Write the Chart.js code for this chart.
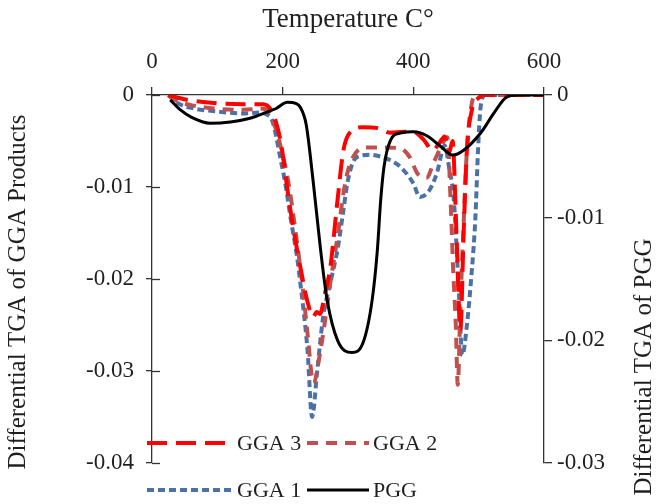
<!DOCTYPE html>
<html>
<head>
<meta charset="utf-8">
<script src="https://cdn.jsdelivr.net/npm/chart.js@4.4.1/dist/chart.umd.min.js"></script>
<style>
  body { margin: 0; background: #fff; }
</style>
</head>
<body>
<canvas id="tga" width="660" height="504"></canvas>
<script>
// temperature (C) and differential TGA values
const gga3Temp = [25, 40, 60, 100, 140, 170, 182, 190, 198, 206, 214, 222, 230, 237, 247, 252, 257, 265, 273, 284, 293, 304, 324, 345, 365, 385, 400, 415, 430, 440, 448, 455, 460, 466, 472, 477, 482, 490, 500, 510, 600];
const gga3Dtga = [0, -0.0003, -0.0006, -0.0009, -0.0010, -0.0010, -0.0016, -0.0030, -0.0055, -0.0096, -0.0135, -0.0168, -0.0198, -0.0222, -0.0241, -0.0236, -0.0238, -0.0215, -0.0187, -0.0114, -0.0060, -0.0040, -0.0035, -0.0036, -0.0041, -0.0040, -0.0040, -0.0048, -0.0060, -0.0052, -0.0045, -0.0062, -0.0050, -0.0150, -0.0255, -0.0150, -0.0060, -0.0015, -0.0003, 0, 0];

const gga2Temp = [25, 40, 60, 100, 140, 170, 180, 190, 200, 210, 220, 230, 238, 247, 258, 266, 273, 284, 293, 300, 308, 324, 350, 380, 395, 406, 420, 432, 442, 452, 457, 461, 465, 468, 472, 477, 482, 488, 495, 600];
const gga2Dtga = [0, -0.0007, -0.0011, -0.0015, -0.0016, -0.0015, -0.0020, -0.0038, -0.0065, -0.0100, -0.0150, -0.0205, -0.0259, -0.0313, -0.0277, -0.0240, -0.0204, -0.0154, -0.0107, -0.0082, -0.0067, -0.0057, -0.0057, -0.0058, -0.0068, -0.0085, -0.0090, -0.0072, -0.0057, -0.0046, -0.0114, -0.0190, -0.0250, -0.0315, -0.0230, -0.0140, -0.0060, -0.0015, 0, 0];

const gga1Temp = [25, 40, 60, 100, 140, 165, 175, 183, 188, 196, 204, 212, 222, 227, 238, 245, 253, 262, 273, 284, 293, 299, 307, 315, 334, 350, 365, 380, 400, 410, 425, 436, 448, 455, 462, 469, 475, 482, 488, 495, 499, 503, 510, 600];
const gga1Dtga = [0, -0.0009, -0.0014, -0.0018, -0.0020, -0.0019, -0.0021, -0.0026, -0.0038, -0.0067, -0.0096, -0.0133, -0.0176, -0.0204, -0.0277, -0.0350, -0.0299, -0.0241, -0.0204, -0.0168, -0.0125, -0.0096, -0.0074, -0.0067, -0.0065, -0.0067, -0.0071, -0.0078, -0.0096, -0.0111, -0.0103, -0.0085, -0.0055, -0.0080, -0.0114, -0.0204, -0.0283, -0.0250, -0.0204, -0.0133, -0.0060, -0.0013, 0, 0];

const pggTemp = [28, 43, 60, 89, 120, 150, 176, 190, 207, 221, 227, 236, 247, 258, 268, 284, 306, 323, 337, 345, 350, 355, 365, 380, 400, 420, 442, 460, 477, 503, 523, 542, 560, 600];
const pggDtga = [-0.0004, -0.0012, -0.0018, -0.0023, -0.0022, -0.0019, -0.0014, -0.0011, -0.0006, -0.0007, -0.0010, -0.0024, -0.0072, -0.0126, -0.0167, -0.0200, -0.0210, -0.0202, -0.0167, -0.0126, -0.0086, -0.0059, -0.0037, -0.0031, -0.0030, -0.0033, -0.0042, -0.0049, -0.0045, -0.0031, -0.0015, -0.0002, 0, 0];

const tempTicks = [0, 200, 400, 600];
const seriesNames = ['GGA 3', 'GGA 2', 'GGA 1', 'PGG'];

const serif = "'Liberation Serif', 'DejaVu Serif', serif";
const textColor = '#1f1f1f';
const axisColor = '#333';

function pairs(xs, ys) {
  return xs.map((x, i) => ({ x: x, y: ys[i] }));
}

// axis titles (both read bottom to top) and the inner half of the left ticks
const axisExtras = {
  id: 'axisExtras',
  afterDraw(chart) {
    const ctx = chart.ctx;
    const yScale = chart.scales.y;
    ctx.save();
    ctx.strokeStyle = axisColor;
    ctx.lineWidth = 1.3;
    yScale.ticks.forEach(t => {
      const py = Math.round(yScale.getPixelForValue(t.value)) + 0.5;
      ctx.beginPath();
      ctx.moveTo(yScale.right, py);
      ctx.lineTo(yScale.right + 8, py);
      ctx.stroke();
    });
    ctx.restore();

    ctx.save();
    ctx.fillStyle = textColor;
    ctx.font = '25px ' + serif;
    ctx.textAlign = 'center';
    ctx.textBaseline = 'middle';
    ctx.translate(18, 292);
    ctx.rotate(-Math.PI / 2);
    ctx.fillText('Differential TGA of GGA Products', 0, 0);
    ctx.restore();

    ctx.save();
    ctx.fillStyle = textColor;
    ctx.font = '25px ' + serif;
    ctx.textAlign = 'center';
    ctx.textBaseline = 'middle';
    ctx.translate(644, 367);
    ctx.rotate(-Math.PI / 2);
    ctx.fillText('Differential TGA of PGG', 0, 0);
    ctx.restore();
  }
};

// two-row legend that sits over the bottom of the plot
const overlayLegend = {
  id: 'overlayLegend',
  afterDraw(chart) {
    const ctx = chart.ctx;
    const cols = [{ x: 147, len: 86 }, { x: 307, len: 62 }];
    const rows = [443, 490];
    chart.data.datasets.forEach((ds, i) => {
      const col = cols[i % 2];
      const y = rows[Math.floor(i / 2)];
      ctx.save();
      ctx.strokeStyle = ds.borderColor;
      ctx.lineWidth = ds.borderWidth;
      ctx.setLineDash(ds.borderDash || []);
      ctx.beginPath();
      ctx.moveTo(col.x, y);
      ctx.lineTo(col.x + col.len, y);
      ctx.stroke();
      ctx.setLineDash([]);
      ctx.fillStyle = textColor;
      ctx.font = '22px ' + serif;
      ctx.textBaseline = 'middle';
      ctx.fillText(ds.label, col.x + col.len + 4, y + 1);
      ctx.restore();
    });
  }
};

new Chart(document.getElementById('tga'), {
  type: 'line',
  data: {
    datasets: [
      {
        label: seriesNames[0],
        data: pairs(gga3Temp, gga3Dtga),
        yAxisID: 'y',
        borderColor: '#FF0000',
        borderWidth: 4,
        borderDash: [20, 9],
        order: 2
      },
      {
        label: seriesNames[1],
        data: pairs(gga2Temp, gga2Dtga),
        yAxisID: 'y',
        borderColor: '#C0504D',
        borderWidth: 4,
        borderDash: [11, 8],
        order: 3
      },
      {
        label: seriesNames[2],
        data: pairs(gga1Temp, gga1Dtga),
        yAxisID: 'y',
        borderColor: '#4A72A6',
        borderWidth: 4,
        borderDash: [7, 4],
        order: 4
      },
      {
        label: seriesNames[3],
        data: pairs(pggTemp, pggDtga),
        yAxisID: 'y2',
        borderColor: '#000000',
        borderWidth: 3,
        order: 1
      }
    ]
  },
  options: {
    responsive: false,
    devicePixelRatio: 1,
    animation: false,
    layout: { padding: { left: 0, right: 0, top: 0, bottom: 41 } },
    elements: {
      point: { radius: 0 },
      line: { cubicInterpolationMode: 'monotone', fill: false }
    },
    scales: {
      x: {
        type: 'linear',
        position: 'top',
        min: 0,
        max: 600,
        afterBuildTicks: (scale) => { scale.ticks = tempTicks.map(v => ({ value: v })); },
        afterFit: (scale) => { scale.height = 95; },
        ticks: {
          font: { family: serif, size: 23 },
          color: textColor,
          padding: 11,
          maxRotation: 0
        },
        grid: { drawOnChartArea: false, tickLength: 8, color: axisColor, lineWidth: 1.3 },
        border: { color: axisColor, width: 1.3 },
        title: {
          display: true,
          text: 'Temperature C°',
          font: { family: serif, size: 27 },
          color: textColor,
          padding: { top: 4, bottom: 0 }
        }
      },
      y: {
        position: 'left',
        min: -0.04,
        max: 0,
        ticks: {
          stepSize: 0.01,
          font: { family: serif, size: 23 },
          color: textColor,
          padding: 12,
          callback: (v) => (Math.abs(v) < 1e-9 ? '0' : v.toFixed(2))
        },
        afterFit: (scale) => { scale.width = 152; },
        grid: { drawOnChartArea: false, tickLength: 6, color: axisColor, lineWidth: 1.3 },
        border: { color: axisColor, width: 1.3 }
      },
      y2: {
        position: 'right',
        min: -0.03,
        max: 0,
        ticks: {
          stepSize: 0.01,
          font: { family: serif, size: 23 },
          color: textColor,
          padding: 5,
          callback: (v) => (Math.abs(v) < 1e-9 ? '0' : v.toFixed(2))
        },
        afterFit: (scale) => { scale.width = 116; },
        grid: { drawOnChartArea: false, tickLength: 8, color: axisColor, lineWidth: 1.3 },
        border: { color: axisColor, width: 1.3 }
      }
    },
    plugins: {
      legend: { display: false },
      tooltip: { enabled: false }
    }
  },
  plugins: [axisExtras, overlayLegend]
});
</script>
</body>
</html>
